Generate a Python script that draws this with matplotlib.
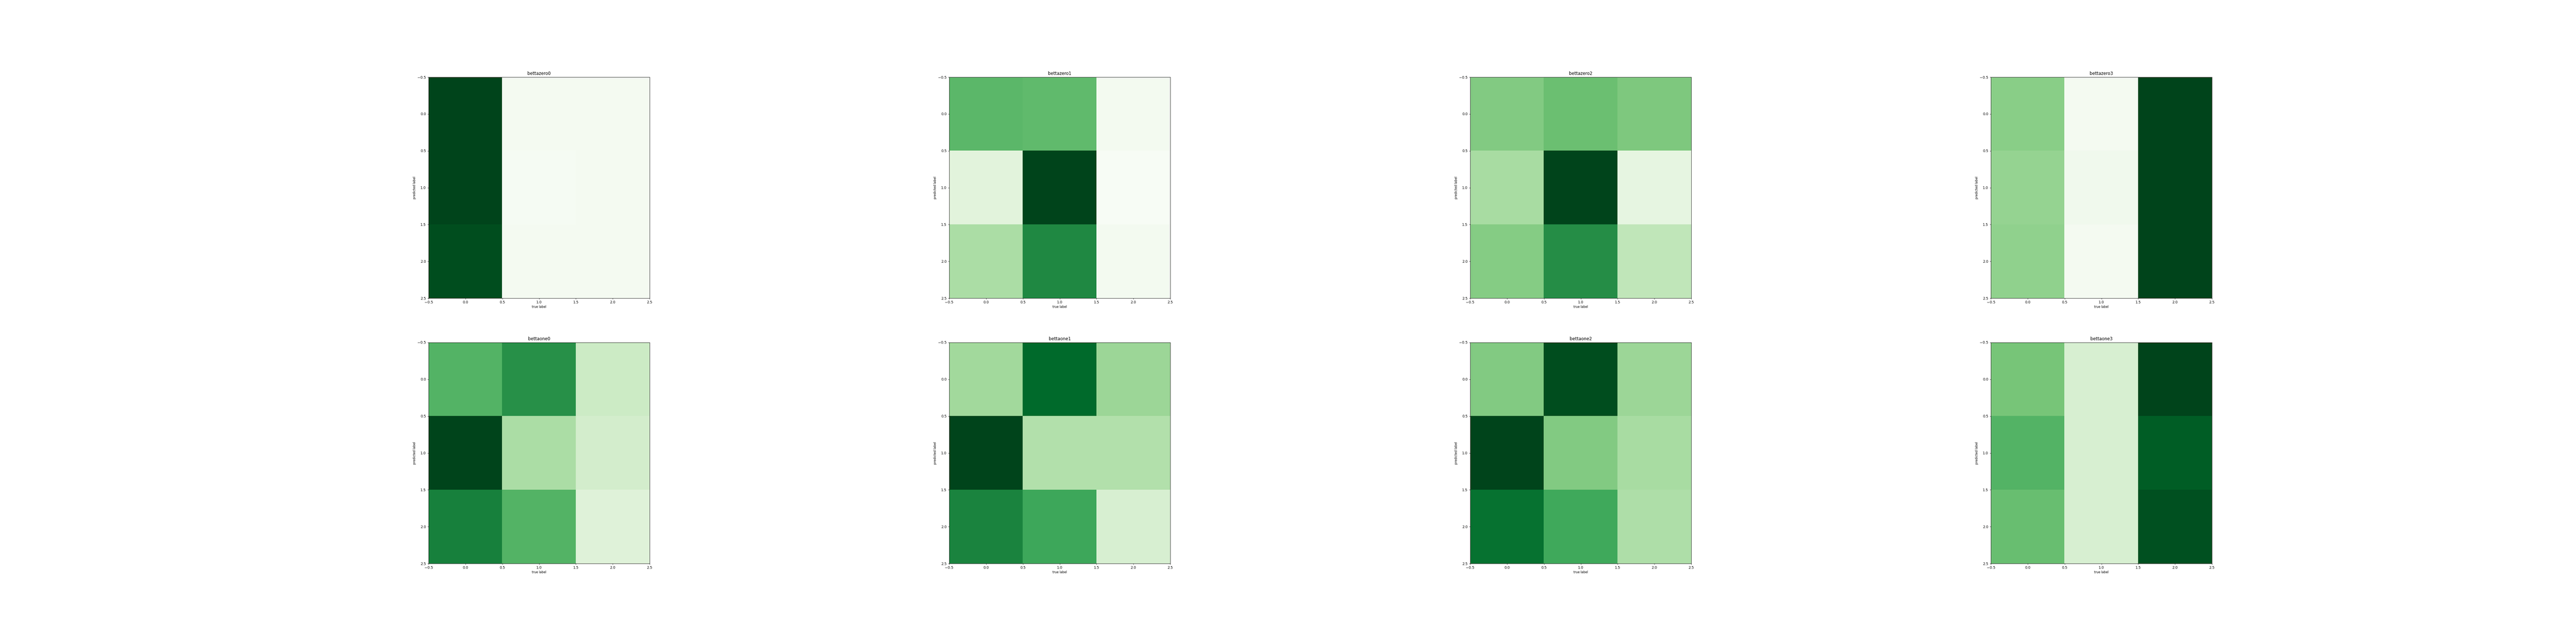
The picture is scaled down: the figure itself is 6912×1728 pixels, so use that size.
import numpy as np
import matplotlib
matplotlib.use('Agg')
import matplotlib.pyplot as plt

# confusion matrices, values read as share of the colour scale (0..1)
bettazero0 = [[1.00, 0.02, 0.02],
              [1.00, 0.01, 0.02],
              [0.97, 0.02, 0.02]]
bettazero1 = [[0.56, 0.55, 0.03],
              [0.14, 1.00, 0.00],
              [0.34, 0.76, 0.03]]
bettazero2 = [[0.46, 0.52, 0.47],
              [0.35, 1.00, 0.12],
              [0.45, 0.74, 0.27]]
bettazero3 = [[0.44, 0.02, 1.00],
              [0.41, 0.05, 1.00],
              [0.42, 0.02, 1.00]]
bettaone0 = [[0.58, 0.73, 0.23],
             [1.00, 0.34, 0.20],
             [0.79, 0.58, 0.15]]
bettaone1 = [[0.37, 0.88, 0.39],
             [1.00, 0.32, 0.32],
             [0.78, 0.64, 0.18]]
bettaone2 = [[0.46, 0.97, 0.39],
             [1.00, 0.46, 0.35],
             [0.85, 0.63, 0.33]]
bettaone3 = [[0.49, 0.18, 1.00],
             [0.58, 0.18, 0.92],
             [0.53, 0.18, 0.96]]

titles = ['bettazero0', 'bettazero1', 'bettazero2', 'bettazero3',
          'bettaone0', 'bettaone1', 'bettaone2', 'bettaone3']
matrices = [bettazero0, bettazero1, bettazero2, bettazero3,
            bettaone0, bettaone1, bettaone2, bettaone3]

plt.rcParams['xtick.labelsize'] = 6.8
plt.rcParams['ytick.labelsize'] = 6.8
plt.rcParams['xtick.major.size'] = 2.4
plt.rcParams['ytick.major.size'] = 2.4
plt.rcParams['xtick.major.width'] = 0.55
plt.rcParams['ytick.major.width'] = 0.55
plt.rcParams['xtick.major.pad'] = 2.4
plt.rcParams['ytick.major.pad'] = 2.4
plt.rcParams['axes.linewidth'] = 0.6

W, H = 6912, 1728
fig = plt.figure(figsize=(69.12, 17.28), dpi=100)

lefts = [1150, 2547, 3945, 5342]
tops = [207, 919]
size = 593  # square axes, pixels

for i, (mat, title) in enumerate(zip(matrices, titles)):
    r, c = divmod(i, 4)
    ax = fig.add_axes([lefts[c] / W, 1 - (tops[r] + size) / H, size / W, size / H])
    ax.imshow(np.array(mat), cmap='Greens', vmin=0, vmax=1,
              interpolation='nearest')
    ax.set_xticks(np.arange(-0.5, 2.51, 0.5))
    ax.set_yticks(np.arange(-0.5, 2.51, 0.5))
    ax.set_xlim(-0.5, 2.5)
    ax.set_ylim(2.5, -0.5)
    ax.set_title(title, fontsize=8.3, pad=4)
    ax.set_xlabel('true label', fontsize=5.8, labelpad=2.5)
    ax.set_ylabel('predicted label', fontsize=5.8, labelpad=2.5)

fig.savefig('out.png', dpi=100)
